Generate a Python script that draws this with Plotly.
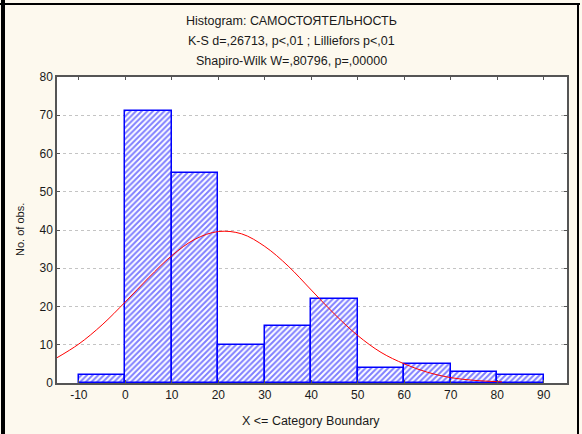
import plotly.graph_objects as go

# ---- data ----
bin_centers = [-5, 5, 15, 25, 35, 45, 55, 65, 75, 85]
counts = [2, 71, 55, 10, 15, 22, 4, 5, 3, 2]

# expected-normal curve
curve_x = [-15, -10, -5, 0, 5, 10, 15, 20, 25, 30, 35, 40, 45, 50, 55, 60, 65, 70, 75, 81]
curve_y = [6.4, 10.2, 15.2, 21.2, 27.5, 33.3, 37.6, 39.6, 39.0, 35.7, 30.6, 24.3, 18.0, 12.4, 8.0, 5.0, 2.8, 1.4, 0.7, 0.3]

x_ticks = [-10, 0, 10, 20, 30, 40, 50, 60, 70, 80, 90]
y_ticks = [0, 10, 20, 30, 40, 50, 60, 70, 80]

title_lines = [
    "Histogram: САМОСТОЯТЕЛЬНОСТЬ",
    "K-S d=,26713, p<,01 ; Lilliefors p<,01",
    "Shapiro-Wilk W=,80796, p=,00000",
]

W, H = 582, 434
L, R, T, B = 57, 567, 77, 383
FONT = "Liberation Sans, Arial, sans-serif"
TXT = "#1a1a1a"


def px(x):
    return (x - L) / (R - L)


def py(y):
    return (B - y) / (B - T)


fig = go.Figure()
fig.add_trace(go.Bar(
    x=bin_centers, y=counts, width=10,
    marker=dict(
        color="white",
        line=dict(color="#0000FF", width=1.5),
        pattern=dict(shape="/", fgcolor="#0000FF", bgcolor="white", size=4, solidity=0.5),
    ),
    showlegend=False,
))
fig.add_trace(go.Scatter(
    x=curve_x, y=curve_y, mode="lines", line=dict(color="#FF0000", width=1, shape="spline"),
    showlegend=False, cliponaxis=True,
))

annotations = []
for i, t in enumerate(title_lines):
    annotations.append(dict(
        text=t, xref="paper", yref="paper", x=px(291), y=py(21 + 20 * i),
        xanchor="center", yanchor="middle", showarrow=False,
        font=dict(family=FONT, size=12.5, color=TXT),
    ))
annotations.append(dict(
    text="No. of obs.", xref="paper", yref="paper", x=px(20), y=py(230),
    xanchor="center", yanchor="middle", textangle=-90, showarrow=False,
    font=dict(family=FONT, size=11, color=TXT),
))
annotations.append(dict(
    text="X &lt;= Category Boundary", xref="paper", yref="paper", x=px(311), y=py(421),
    xanchor="center", yanchor="middle", showarrow=False,
    font=dict(family=FONT, size=12.5, color=TXT),
))

shapes = [
    dict(type="rect", xref="paper", yref="paper", x0=px(1), x1=px(5), y0=py(0), y1=py(H + 2),
         fillcolor="black", line=dict(width=0), layer="above"),
    dict(type="rect", xref="paper", yref="paper", x0=px(0), x1=px(580), y0=py(3), y1=py(5),
         fillcolor="black", line=dict(width=0), layer="above"),
    dict(type="rect", xref="paper", yref="paper", x0=px(577), x1=px(579), y0=py(3), y1=py(H + 2),
         fillcolor="black", line=dict(width=0), layer="above"),
]

fig.update_layout(
    width=W, height=H,
    margin=dict(l=L, r=W - R, t=T, b=H - B),
    paper_bgcolor="#FDF9EE", plot_bgcolor="white",
    bargap=0,
    annotations=annotations, shapes=shapes,
    font=dict(family=FONT, size=12, color=TXT),
)
fig.update_xaxes(
    range=[-14.7, 95], tickvals=x_ticks, ticktext=[str(v) for v in x_ticks],
    showgrid=False, zeroline=False,
    showline=True, linecolor="#555555", linewidth=1.5, mirror="ticks",
    ticks="inside", ticklen=3, tickcolor="#555555",
    tickfont=dict(family=FONT, size=12, color=TXT),
)
fig.update_yaxes(
    range=[0, 80], tickvals=y_ticks, ticktext=[str(v) for v in y_ticks],
    showgrid=True, gridcolor="#C4C4C4", griddash="dot", gridwidth=1,
    zeroline=False,
    showline=True, linecolor="#555555", linewidth=1.5, mirror="ticks",
    ticks="inside", ticklen=3, tickcolor="#555555",
    tickfont=dict(family=FONT, size=12, color=TXT),
)

fig.write_html(
    "out.html",
    config={"displayModeBar": False},
    post_script="document.body.style.margin='0';document.body.style.overflow='hidden';",
)
